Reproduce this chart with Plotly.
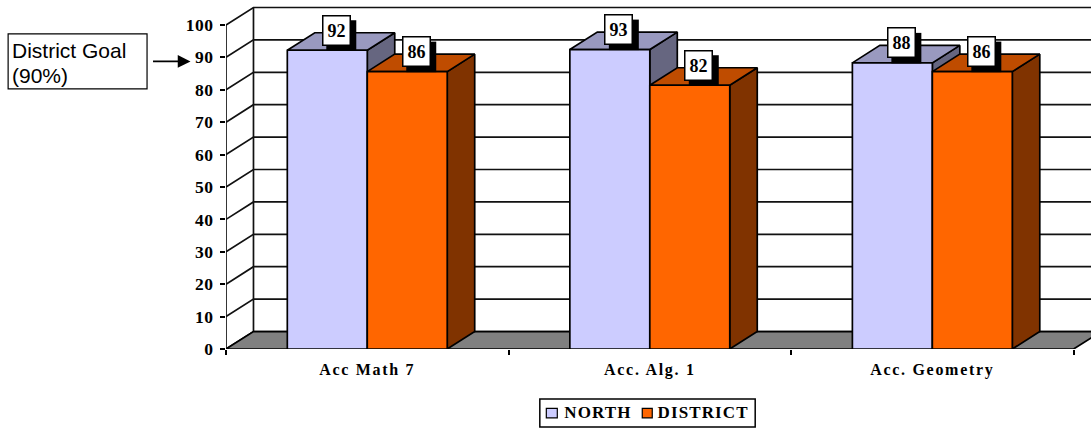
import plotly.graph_objects as go

# ---- data ----
categories = ["Acc Math 7", "Acc. Alg. 1", "Acc. Geometry"]
north_values = [92.2, 92.4, 88.3]
district_values = [85.6, 81.4, 85.6]
north_labels = ["92", "93", "88"]
district_labels = ["86", "82", "86"]
y_ticks = list(range(0, 101, 10))

# ---- style / layout constants ----
W, H = 1091, 429
X0, Y0 = 225.5, 349.5        # pixel of origin
CAT_PX, VAL_PX = 282.7, 3.245
DX = 27.5 / CAT_PX           # depth offset in axis units
DY = 17.5 / VAL_PX
BARGAP = 0.434
BAR_W = (1 - BARGAP) / 2
SERIF = "Liberation Serif"
SANS = "Liberation Sans"
NORTH = dict(front="#CCCCFF", top="#9999BF", side="#666680", name="NORTH")
DIST = dict(front="#FF6600", top="#BF4C00", side="#803300", name="DISTRICT")
x_range = [0, (W - X0) / CAT_PX]
y_range = [0, Y0 / VAL_PX]
n_cat = len(categories)

def px_x(px):
    return (px - X0) / (W - X0)

def px_y(py):
    return (Y0 - py) / Y0

def poly(points_list):
    xs, ys = [], []
    for pts in points_list:
        for p in pts + [pts[0]]:
            xs.append(p[0]); ys.append(p[1])
        xs.append(None); ys.append(None)
    return xs, ys

def add_poly(fig, polys, fill):
    xs, ys = poly(polys)
    fig.add_trace(go.Scatter(x=xs, y=ys, mode="lines", fill="toself", fillcolor=fill,
                             line=dict(color="black", width=1.7), hoverinfo="skip",
                             showlegend=False, xaxis="x", yaxis="y"))

fig = go.Figure()

# back wall grid lines and side wall
gx, gy = [], []
for v in y_ticks:
    gx += [0, DX, x_range[1] + 1, None]
    gy += [v, v + DY, v + DY, None]
gx += [DX, DX, None, 0, 0, None]
gy += [DY, 100 + DY, None, 0, 100, None]
fig.add_trace(go.Scatter(x=gx, y=gy, mode="lines", line=dict(color="#111111", width=1.7),
                         hoverinfo="skip", showlegend=False))

# floor
add_poly(fig, [[(0, 0), (DX, DY), (n_cat + DX, DY), (n_cat, 0)]], "#808080")

# 3D faces of the bars
for s, vals, off in ((NORTH, north_values, 0), (DIST, district_values, BAR_W)):
    sides, tops = [], []
    for i, v in enumerate(vals):
        l = i + BARGAP / 2 + off
        r = l + BAR_W
        sides.append([(r, 0), (r + DX, DY), (r + DX, v + DY), (r, v)])
        tops.append([(l, v), (l + DX, v + DY), (r + DX, v + DY), (r, v)])
    add_poly(fig, sides, s["side"])
    add_poly(fig, tops, s["top"])

# front faces
x_centres = [i + 0.5 for i in range(n_cat)]
for s, vals in ((NORTH, north_values), (DIST, district_values)):
    fig.add_trace(go.Bar(x=x_centres, y=vals, name=s["name"], xaxis="x2", yaxis="y2",
                         showlegend=False,
                         marker=dict(color=s["front"], line=dict(color="black", width=1.7)),
                         hoverinfo="skip"))

# value labels with drop shadow
annotations, shapes = [], []
for vals, labels, off in ((north_values, north_labels, 0), (district_values, district_labels, BAR_W)):
    for i, (v, t) in enumerate(zip(vals, labels)):
        cx = i + BARGAP / 2 + off + BAR_W / 2
        shapes.append(dict(type="rect", layer="above", xref="x", yref="y", xsizemode="pixel", ysizemode="pixel",
                           xanchor=cx, yanchor=v, x0=-1, x1=29, y0=-0.5, y1=30,
                           fillcolor="black", line=dict(width=0)))
        annotations.append(dict(
            x=cx, y=v, xref="x", yref="y", text=f"<b>{t}</b>", showarrow=False,
            xshift=9, yshift=20,
            width=26, height=28, borderpad=0, borderwidth=1.5, bordercolor="black",
            bgcolor="white", font=dict(family=SERIF, size=18, color="black")))

# goal note
shapes.append(dict(type="rect", layer="above", xref="paper", yref="paper",
                   x0=px_x(7.5), x1=px_x(146.5), y0=px_y(89), y1=px_y(34),
                   fillcolor="white", line=dict(color="black", width=1.2)))
for line_text, py in (("District Goal", 51), ("(90%)", 76)):
    annotations.append(dict(x=px_x(9.5), y=px_y(py), xref="paper", yref="paper",
                            xanchor="left", yanchor="middle", text=line_text, showarrow=False,
                            font=dict(family=SANS, size=21, color="black")))
annotations.append(dict(x=px_x(190), y=px_y(61.5), xref="paper", yref="paper",
                        ax=-39, ay=0, axref="pixel", ayref="pixel", text="", showarrow=True,
                        arrowhead=2, arrowsize=1.6, arrowwidth=1.6, arrowcolor="black"))

# legend
shapes.append(dict(type="rect", layer="above", xref="paper", yref="paper",
                   x0=px_x(539.5), x1=px_x(755), y0=px_y(427.5), y1=px_y(399.5),
                   fillcolor="white", line=dict(color="black", width=1.5)))
for s, x0, x1, cx in ((NORTH, 546, 557, 598), (DIST, 642, 652, 703.5)):
    shapes.append(dict(type="rect", layer="above", xref="paper", yref="paper",
                       x0=px_x(x0), x1=px_x(x1), y0=px_y(418.5), y1=px_y(409),
                       fillcolor=s["front"], line=dict(color="black", width=1.2)))
    annotations.append(dict(x=px_x(cx), y=px_y(413.5), xref="paper", yref="paper", showarrow=False,
                            xanchor="center", yanchor="middle",
                            text=f"<b>{s['name']}</b>", font=dict(family=SERIF, size=17, color="black")))

fig.update_layout(
    width=W, height=H, autosize=False,
    margin=dict(l=X0, r=0, t=0, b=H - Y0, pad=0, autoexpand=False),
    paper_bgcolor="white", plot_bgcolor="white",
    barmode="group", bargap=BARGAP, bargroupgap=0,
    showlegend=False,
    annotations=annotations, shapes=shapes,
    xaxis=dict(range=x_range, domain=[0, 1], showgrid=False, zeroline=False, showline=False,
               tickmode="array", tickvals=x_centres, ticktext=[f"<b>{c}</b>" for c in categories],
               ticks="", ticklabelstandoff=9,
               tickfont=dict(family=SERIF, size=16, color="black"),
               minor=dict(tickmode="array", tickvals=list(range(n_cat + 1)), ticks="outside",
                          ticklen=5, tickwidth=1.5, tickcolor="black", showgrid=False)),
    yaxis=dict(range=y_range, domain=[0, 1], showgrid=False, zeroline=False, showline=False,
               tickmode="array", tickvals=y_ticks, ticktext=[f"<b>{v}</b>" for v in y_ticks],
               ticks="outside", ticklen=5, tickwidth=1.5, tickcolor="black", ticklabelstandoff=3,
               tickfont=dict(family=SERIF, size=17.5, color="black")),
    xaxis2=dict(range=x_range, overlaying="x", visible=False, matches="x"),
    yaxis2=dict(range=y_range, overlaying="y", visible=False, matches="y"),
)

post = """
document.body.style.margin='0';document.body.style.overflow='hidden';
document.querySelectorAll('.xtick text').forEach(function(t){t.style.letterSpacing='1.7px';});
document.querySelectorAll('.ytick text').forEach(function(t){t.style.letterSpacing='0.5px';});
document.querySelectorAll('.annotation-text').forEach(function(t){
  if(/NORTH|DISTRICT/.test(t.textContent)){t.style.letterSpacing='1.1px';}
});
"""
fig.write_html("out.html", config={"displayModeBar": False}, post_script=post)
